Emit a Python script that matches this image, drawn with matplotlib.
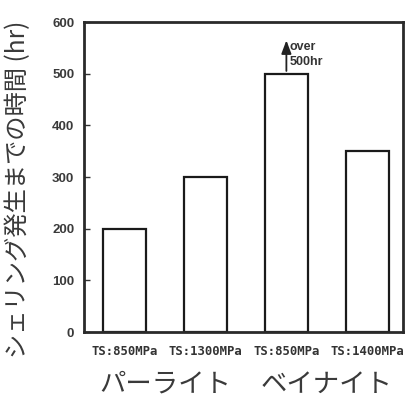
import matplotlib
matplotlib.use("Agg")
import matplotlib.pyplot as plt

categories = ["TS:850MPa", "TS:1300MPa", "TS:850MPa", "TS:1400MPa"]
hours = [200, 300, 500, 350]
groups = ["パーライト", "ベイナイト"]
y_ticks = [0, 100, 200, 300, 400, 500, 600]
ylabel = "シェリング発生までの時間 (hr)"
note = "over\n500hr"

jp = ["Noto Sans CJK JP", "DejaVu Sans"]

fig = plt.figure(figsize=(4.12, 4.01), dpi=100)
ax = fig.add_axes([0.204, 0.172, 0.774, 0.773])

x = list(range(len(categories)))
ax.bar(x, hours, width=0.53, color="white", edgecolor="#1a1a1a", linewidth=1.6)

ax.set_xlim(-0.5, 3.44)
ax.set_ylim(0, 600)
ax.set_yticks(y_ticks)
ax.set_yticklabels([str(v) for v in y_ticks], fontsize=9.5, fontweight="bold",
                   color="#3a3a3a", family="Liberation Sans")
ax.tick_params(axis="y", direction="in", length=4, width=1, pad=7, colors="#333333")
ax.tick_params(axis="y", labelcolor="#3a3a3a")
ax.set_xticks(x)
ax.set_xticklabels(categories, fontsize=8.8, fontweight="bold", family="DejaVu Sans Mono",
                   color="#333333")
ax.tick_params(axis="x", length=0, pad=9)
for s in ax.spines.values():
    s.set_linewidth(2)
    s.set_color("#2a2a2a")

# arrow marking the run that was stopped past 500 hr
ax.annotate("", xy=(2, 570), xytext=(2, hours[2]),
            arrowprops=dict(arrowstyle="-|>,head_length=0.8,head_width=0.3",
                            color="#222222", lw=1.3))
ax.text(2.04, 537, note, fontsize=9, fontweight="bold", color="#333333",
        family="Liberation Sans", va="center", ha="left", linespacing=1.25)

fig.text(18 / 412, 0.527, ylabel, rotation=90, ha="center", va="center",
         family=jp, fontsize=17.5, color="#3a3a3a")

for i, g in enumerate(groups):
    xc = 2 * i + 0.5
    ax.text(xc, -0.168, g, transform=ax.get_xaxis_transform(), ha="center", va="center",
            fontsize=19, family=jp, color="#3a3a3a")

fig.savefig("out.png", dpi=100, facecolor="white")
